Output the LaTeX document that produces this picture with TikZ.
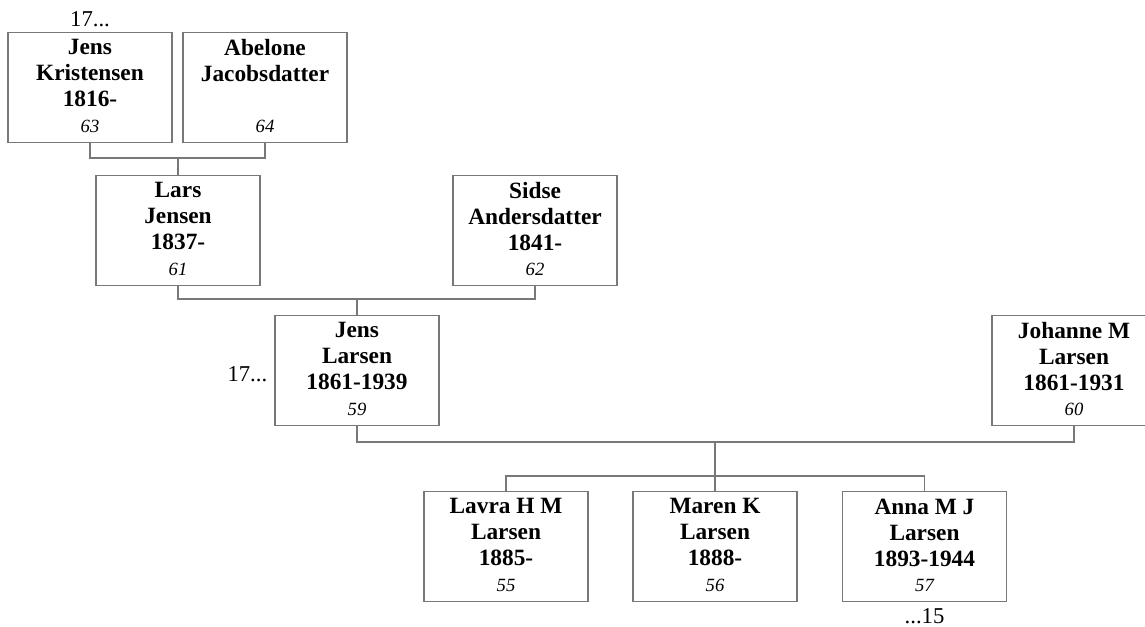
\documentclass[tikz,border=0pt]{standalone}
\usepackage{fontspec}
\setmainfont{Liberation Serif}
\definecolor{linegray}{RGB}{120,120,120}
\tikzset{ %line width = 0.5pt,
  person/.style = {rectangle, draw=linegray, line width=0.8pt,
                   minimum width=123pt, minimum height=82.5pt, inner sep=0},
  fullname/.style = {anchor=north, align=center, inner sep=0, yshift=-5.6pt,
                     font=\bfseries\fontsize{17.5}{19.5}\selectfont},
  refno/.style = {anchor=base, inner sep=0, yshift=8.25pt,
                  font=\itshape\fontsize{14}{16}\selectfont},
  more/.style = {inner sep=0, font=\fontsize{17}{19}\selectfont},
  link/.style = {draw=linegray, line width=0.8pt},
}

\begin{document}
\begin{tikzpicture}[x=0.75pt, y=-0.75pt]
\useasboundingbox (0,0) rectangle (1145,626);
\clip (0,0) rectangle (1145,626);
% grandparents
\node[person, label={[fullname]north:Jens\\Kristensen\\1816-},
      label={[refno]south:63}] (jk) at (90,87.5) {};
\node[person, label={[fullname]north:Abelone\\Jacobsdatter},
      label={[refno]south:64}] (ab) at (265,87.5) {};
% parents
\node[person, label={[fullname]north:Lars\\Jensen\\1837-},
      label={[refno]south:61}] (lars) at (178,230.5) {};
\node[person, label={[fullname]north:Sidse\\Andersdatter\\1841-},
      label={[refno]south:62}] (sidse) at (535,230.5) {};
% couple
\node[person, label={[fullname]north:Jens\\Larsen\\1861-1939},
      label={[refno]south:59}] (jens) at (357,370.5) {};
\node[person, label={[fullname]north:Johanne M\\Larsen\\1861-1931},
      label={[refno]south:60}] (johanne) at (1074,370.5) {};
% children
\node[person, label={[fullname]north:Lavra H M\\Larsen\\1885-},
      label={[refno]south:55}] (lavra) at (506,546.5) {};
\node[person, label={[fullname]north:Maren K\\Larsen\\1888-},
      label={[refno]south:56}] (maren) at (715,546.5) {};
\node[person, label={[fullname]north:Anna M J\\Larsen\\1893-1944},
      label={[refno]south:57}] (anna) at (924.5,546.5) {};

\node[more, anchor=base, yshift=3.75pt] (jkmore) at (jk.north) {17...};
\node[more, anchor=base east, xshift=-5.25pt, yshift=-8.6pt] (jensmore) at (jens.west) {17...};
\node[more, anchor=base, yshift=-15.75pt] (annamore) at (anna.south) {...15};

\coordinate (u1) at (178,158);
\coordinate (u2) at (357,299);
\coordinate (u3) at (715,442);
\coordinate (u4) at (715,476);
\path[link] (jk.south) |- (u1) -| (ab.south)
            (u1) -- (lars.north)
            (lars.south) |- (u2) -| (sidse.south)
            (u2) -- (jens.north)
            (jens.south) |- (u3) -| (johanne.south)
            (u3) -- (u4)
            (lavra.north) |- (u4) -| (anna.north)
            (u4) -- (maren.north);
\end{tikzpicture}
\end{document}
